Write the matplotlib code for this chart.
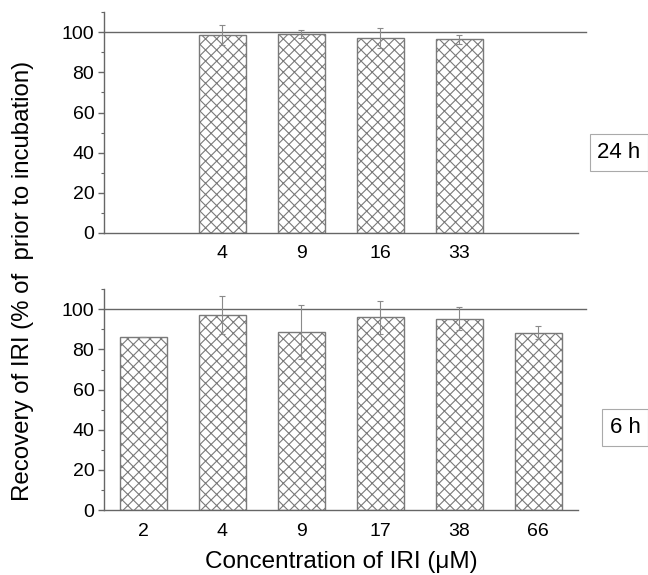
import matplotlib
matplotlib.use("Agg")
import matplotlib.pyplot as plt
from matplotlib.ticker import MultipleLocator

plt.rcParams['font.family'] = ['Liberation Sans', 'DejaVu Sans']
plt.rcParams['hatch.color'] = '#707070'
plt.rcParams['hatch.linewidth'] = 0.8

# 24 h incubation
conc24 = ['4', '9', '16', '33']
rec24 = [98.8, 98.9, 97.2, 96.5]
err24 = [5.0, 2.0, 5.1, 2.3]

# 6 h incubation
conc6 = ['2', '4', '9', '17', '38', '66']
rec6 = [86.4, 97.2, 88.7, 96.0, 95.3, 88.4]
err6 = [0.0, 9.4, 13.5, 8.2, 5.7, 3.2]

fig = plt.figure(figsize=(6.48, 5.75), dpi=100)
axTop = fig.add_axes([0.1605, 0.5948, 0.731, 0.384])
axBot = fig.add_axes([0.1605, 0.113, 0.731, 0.384])

def drawPanel(ax, pos, vals, errs, labels, tag, tagX, tagY):
    ax.bar(pos, vals, width=0.6, color='white', edgecolor='#7a7a7a',
           linewidth=1.0, hatch='xxx', zorder=2)
    ax.errorbar(pos, vals, yerr=errs, fmt='none', ecolor='#8a8a8a',
                elinewidth=0.8, capsize=2.5, capthick=0.8, zorder=3)
    ax.plot([-0.5, 5.6], [100, 100], color='#666666', lw=1.0,
            clip_on=False, zorder=1)
    ax.set_xlim(-0.5, 5.5)
    ax.set_ylim(0, 110)
    ax.set_xticks(pos)
    ax.set_xticklabels(labels)
    ax.set_yticks([0, 20, 40, 60, 80, 100])
    ax.yaxis.set_minor_locator(MultipleLocator(10))
    ax.tick_params(axis='x', length=0, labelsize=14, pad=9)
    ax.tick_params(axis='y', which='major', length=4, width=1.0,
                   color='#666666', labelsize=14, pad=3)
    ax.tick_params(axis='y', which='minor', length=2, width=0.8,
                   color='#666666')
    for s in ['top', 'right']:
        ax.spines[s].set_visible(False)
    for s in ['left', 'bottom']:
        ax.spines[s].set_color('#666666')
        ax.spines[s].set_linewidth(1.0)
    fig.text(tagX, tagY, tag, fontsize=16, ha='left', va='center',
             bbox=dict(boxstyle='square,pad=0.35', fc='white',
                       ec='#aaaaaa', lw=0.8))

drawPanel(axTop, [1, 2, 3, 4], rec24, err24, conc24, '24 h', 0.922, 0.735)
drawPanel(axBot, [0, 1, 2, 3, 4, 5], rec6, err6, conc6, '6 h', 0.941, 0.257)

axBot.set_xlabel('Concentration of IRI (μM)', fontsize=17.5, labelpad=8)
fig.text(0.035, 0.511, 'Recovery of IRI (% of  prior to incubation)',
         rotation=90, fontsize=17.3, ha='center', va='center')

fig.savefig('out.png', dpi=100)
